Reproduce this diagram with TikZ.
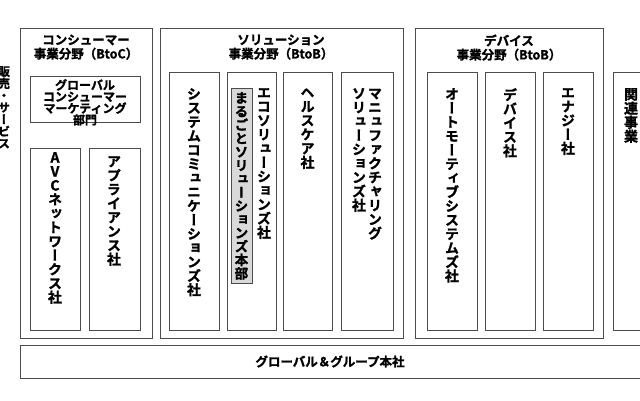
\documentclass[tikz,border=0pt]{standalone}
\usepackage{fontspec}
\setmainfont{Noto Sans CJK JP}[BoldFont=* Bold,BoldFeatures={FakeBold=1.5}]
\newfontfamily\vjp{Noto Sans CJK JP}[RawFeature=+vert,BoldFont=* Bold,BoldFeatures={FakeBold=1.5}]
\makeatletter
\def\vtloop#1{\ifx#1\relax\else\hbox to 1em{\hss#1\hss}\expandafter\vtloop\fi}
\newcommand\vtxt[1]{\vtop{\vjp\bfseries\baselineskip=1.0em\lineskiplimit=-20pt\vtloop#1\relax}}
\makeatother
\tikzset{
 box/.style={draw=black!70,line width=0.7pt,fill=white},
 ttl/.style={font=\fontsize{12.5}{14}\selectfont\bfseries,align=center,anchor=north},
 vt/.style={font=\fontsize{14}{14}\selectfont,anchor=north,inner sep=0pt},
}
\begin{document}
\begin{tikzpicture}[x=1pt,y=-1pt]
\useasboundingbox (0,0) rectangle (640,400);
\clip (0,0) rectangle (640,400);
\fill[white] (0,0) rectangle (640,400);
% left side text
\node[vt,font=\fontsize{12}{13}\selectfont] (side) at (4,66) {\vtxt{販売・サービス}};
% consumer
\draw[box] (20,28) rectangle (152,338);
\node[ttl] (t1) at (86,31) {コンシューマー\\事業分野（BtoC）};
\draw[box] (30,76) rectangle (140,122);
\node[ttl,font=\fontsize{12}{11.6}\selectfont\bfseries,inner sep=1pt] (gc) at (85,78) {グローバル\\コンシューマー\\マーケティング\\部門};
\draw[box] (30,148) rectangle (80,330);
\node[vt] (avc) at (55,152) {\vtxt{AVCネットワークス社}};
\draw[box] (89,148) rectangle (140,330);
\node[vt] (apl) at (114,156) {\vtxt{アプライアンス社}};
% solution
\draw[box] (160,28) rectangle (403,338);
\node[ttl] (t2) at (281,31) {ソリューション\\事業分野（BtoB）};
\draw[box] (169,72) rectangle (219,330);
\node[vt] (sc) at (194,88) {\vtxt{システムコミュニケーションズ社}};
\draw[box] (227,72) rectangle (276,330);
\draw[box,fill=black!15] (231,88) rectangle (252,283);
\node[vt,font=\fontsize{13.5}{14}\selectfont] (mr) at (241.5,92) {\vtxt{まるごとソリューションズ本部}};
\node[vt] (eco) at (264,88) {\vtxt{エコソリューションズ社}};
\draw[box] (283,72) rectangle (332,330);
\node[vt] (hc) at (307.5,88) {\vtxt{ヘルスケア社}};
\draw[box] (341,72) rectangle (393,330);
\node[vt] (mf) at (367,88) {\hbox{\vtxt{ソリューションズ社}\hspace{2pt}\vtxt{マニュファクチャリング}}};
% device
\draw[box] (415,28) rectangle (603,338);
\node[ttl] (t3) at (509,31) {デバイス\\事業分野（BtoB）};
\draw[box] (427,72) rectangle (477,330);
\node[vt] (au) at (452,88) {\vtxt{オートモーティブシステムズ社}};
\draw[box] (485,72) rectangle (535,330);
\node[vt] (dv) at (510,88) {\vtxt{デバイス社}};
\draw[box] (543,72) rectangle (593,330);
\node[vt] (en) at (568,88) {\vtxt{エナジー社}};
% related
\draw[box] (613,72) rectangle (660,330);
\node[vt] (rel) at (631,88) {\vtxt{関連事業}};
% bottom
\draw[box] (20,345) rectangle (660,378);
\node[font=\fontsize{12.5}{14}\selectfont\bfseries] (hq) at (330,361.5) {グローバル＆グループ本社};
\end{tikzpicture}
\end{document}
